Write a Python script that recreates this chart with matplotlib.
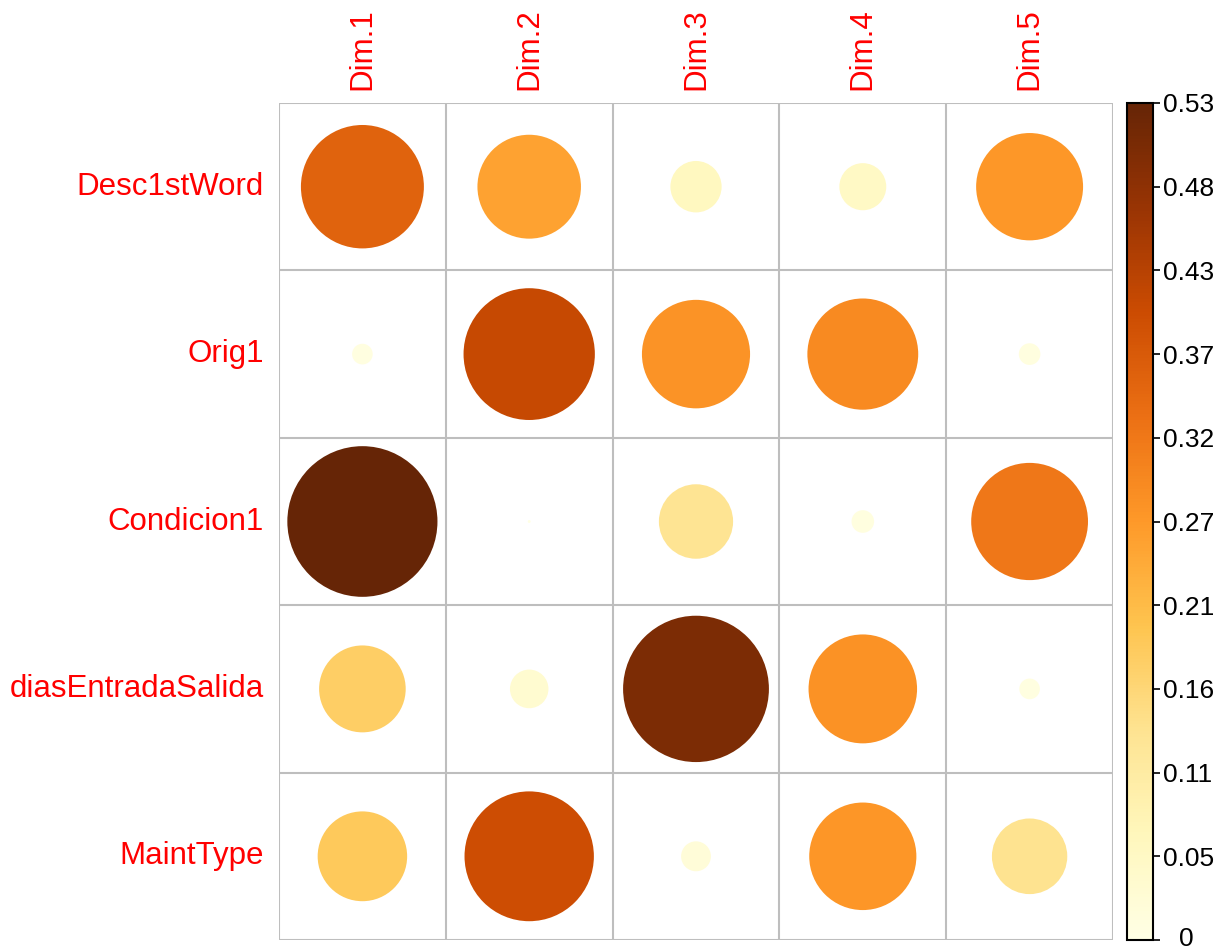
import numpy as np
import matplotlib
matplotlib.use("Agg")
import matplotlib.pyplot as plt
import matplotlib.transforms as mtransforms
from matplotlib.patches import Circle
from matplotlib.colors import Normalize
from matplotlib.cm import ScalarMappable

plt.rcParams['font.family'] = ['Liberation Sans', 'DejaVu Sans']

variables = ["Desc1stWord", "Orig1", "Condicion1", "diasEntradaSalida", "MaintType"]
dims = ["Dim.1", "Dim.2", "Dim.3", "Dim.4", "Dim.5"]

desc1stword = [0.357, 0.253, 0.062, 0.052, 0.270]
orig1 = [0.010, 0.407, 0.276, 0.290, 0.011]
condicion1 = [0.532, 0.0002, 0.130, 0.012, 0.322]
dias_entrada_salida = [0.177, 0.035, 0.502, 0.278, 0.010]
maint_type = [0.189, 0.395, 0.021, 0.271, 0.134]

values = np.array([desc1stword, orig1, condicion1, dias_entrada_salida, maint_type])
vmin, vmax = 0.0, values.max()

cmap = plt.get_cmap("YlOrBr")
norm = Normalize(vmin=vmin, vmax=vmax)

W, H = 1218, 952
fig = plt.figure(figsize=(W / 100, H / 100), dpi=100)

# main grid of circles
left, right, top, bottom = 279, 1113, 103, 940
ax = fig.add_axes([left / W, 1 - bottom / H, (right - left) / W, (bottom - top) / H])
nr, nc = values.shape
ax.set_xlim(0.5, nc + 0.5)
ax.set_ylim(nr + 0.5, 0.5)
ax.set_aspect("auto")

grid_color = "#BEBEBE"
for k in range(nc + 1):
    ax.axvline(0.5 + k, color=grid_color, lw=1.5, zorder=1)
for k in range(nr + 1):
    ax.axhline(0.5 + k, color=grid_color, lw=1.5, zorder=1)

for i in range(nr):
    for j in range(nc):
        v = values[i, j]
        r = 0.45 * np.sqrt(abs(v) / vmax)
        ax.add_patch(Circle((j + 1, i + 1), r, facecolor=cmap(norm(v)),
                            edgecolor="none", zorder=2))

for s in ax.spines.values():
    s.set_visible(False)
ax.set_xticks([])
ax.set_yticks([])

label_fs = 22.5
for i, name in enumerate(variables):
    ax.annotate(name, xy=(0.5, i + 1), xycoords="data", xytext=(-15, 0),
                textcoords="offset pixels", ha="right", va="center",
                color="red", fontsize=label_fs)
for j, name in enumerate(dims):
    ax.annotate(name, xy=(j + 1, 0.5), xycoords="data", xytext=(0, 13),
                textcoords="offset pixels", ha="center", va="bottom",
                rotation=90, color="red", fontsize=label_fs)

# colour legend
cax = fig.add_axes([1127 / W, 1 - bottom / H, 26 / W, (bottom - top) / H])
sm = ScalarMappable(norm=norm, cmap=cmap)
cb = fig.colorbar(sm, cax=cax)
ticks = np.linspace(vmin, vmax, 11)
cb.set_ticks(ticks)
cb.set_ticklabels(["0" if t == 0 else f"{t:.2f}" for t in ticks])
cb.outline.set_edgecolor("black")
cb.outline.set_linewidth(1.5)
cax.tick_params(axis="y", direction="out", length=5, width=1.2, color="black",
                labelsize=19, pad=2)

# centre the short "0" label under the others and keep it inside the canvas
fig.canvas.draw()
lowest = cax.get_yticklabels()[0]
lowest.set_transform(lowest.get_transform() +
                     mtransforms.ScaledTranslation(16 / 100, 3 / 100, fig.dpi_scale_trans))

fig.savefig("out.png", dpi=100, facecolor="white")
